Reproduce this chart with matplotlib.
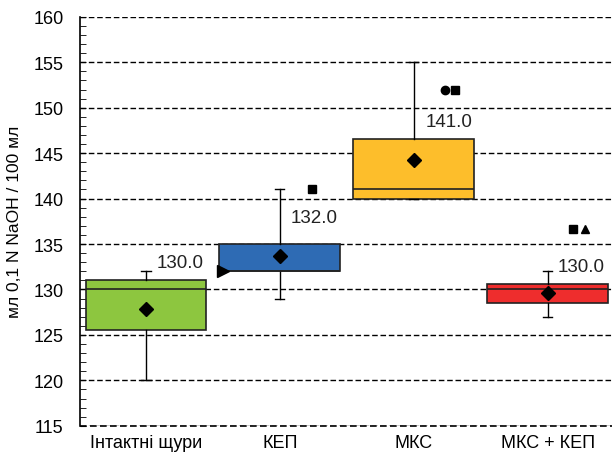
import matplotlib
matplotlib.use("Agg")
import matplotlib.pyplot as plt
from matplotlib.ticker import MultipleLocator

plt.rcParams['font.family'] = ['Liberation Sans', 'DejaVu Sans']

groups = ['Інтактні щури', 'КЕП', 'МКС', 'МКС + КЕП']
q1 = [125.5, 132.0, 140.0, 128.5]
med = [130.0, 132.0, 141.0, 130.0]
q3 = [131.0, 135.0, 146.5, 130.6]
whis_lo = [120.0, 129.0, 140.0, 127.0]
whis_hi = [132.0, 141.0, 155.0, 132.0]
means = [127.9, 133.7, 144.2, 129.6]
colors = ['#8DC63F', '#2E6BB4', '#FDBE2B', '#EE2D2D']

# median labels: (x offset from group, y)
label_x = [0.08, 0.08, 0.09, 0.075]
label_y = [133.0, 137.9, 148.5, 132.5]

# significance marks
mark_group = [1, 1, 2, 2, 3, 3]
mark_y = [132.0, 141.1, 152.0, 152.0, 136.7, 136.7]
mark_sym = ['>', 's', 'o', 's', 's', '^']
mark_dx = [-0.425, 0.24, 0.23, 0.31, 0.19, 0.28]

y_min, y_max = 115, 160

stats = []
for i in range(len(groups)):
    stats.append(dict(med=med[i], q1=q1[i], q3=q3[i], whislo=whis_lo[i],
                      whishi=whis_hi[i], mean=means[i], fliers=[]))

fig = plt.figure(figsize=(6.12, 4.56), dpi=100)
ax = fig.add_axes([0.131, 0.064, 0.869, 0.897])

bp = ax.bxp(stats, positions=range(len(groups)), widths=0.9, patch_artist=True,
            showmeans=True, showfliers=False,
            boxprops=dict(edgecolor='#222222', linewidth=1.2),
            medianprops=dict(color='#222222', linewidth=1.2),
            whiskerprops=dict(color='black', linewidth=1),
            capprops=dict(color='black', linewidth=1),
            meanprops=dict(marker='D', markerfacecolor='black', markeredgecolor='black', markersize=7),
            capwidths=0.07, zorder=3)
for patch, c in zip(bp['boxes'], colors):
    patch.set_facecolor(c)

for i in range(len(groups)):
    ax.text(i + label_x[i], label_y[i], f'{med[i]:.1f}', fontsize=13.5,
            ha='left', va='center', color='#222222', zorder=4)

for g, y, s, dx in zip(mark_group, mark_y, mark_sym, mark_dx):
    ax.plot(g + dx, y, marker=s, color='black', markersize=8 if s == '>' else 6,
            linestyle='none', zorder=5)

ax.set_xlim(-0.49, 3.48)
ax.set_ylim(y_min, y_max)
ax.yaxis.set_major_locator(MultipleLocator(5))
ax.yaxis.set_minor_locator(MultipleLocator(1))
ax.tick_params(axis='y', which='both', direction='in', labelsize=13, pad=12)
ax.tick_params(axis='y', which='minor', length=4)
ax.tick_params(axis='y', which='major', length=4)
ax.tick_params(axis='x', length=0, labelsize=13, pad=6)
ax.set_xticks(range(len(groups)))
ax.set_xticklabels(groups)
ax.grid(axis='y', linestyle=(0, (4, 2)), color='black', linewidth=1, zorder=0)
# bottom dashed line in place of the x axis
ax.axhline(y_min, linestyle=(0, (4, 2)), color='black', linewidth=1.2, clip_on=False, zorder=1)
ax.set_axisbelow(True)
for side in ['top', 'right', 'bottom']:
    ax.spines[side].set_visible(False)
ax.spines['left'].set_linewidth(1.2)
ax.set_ylabel('мл 0,1 N NaOH / 100 мл', fontsize=12.5, labelpad=8)

fig.savefig('out.png', dpi=100)
